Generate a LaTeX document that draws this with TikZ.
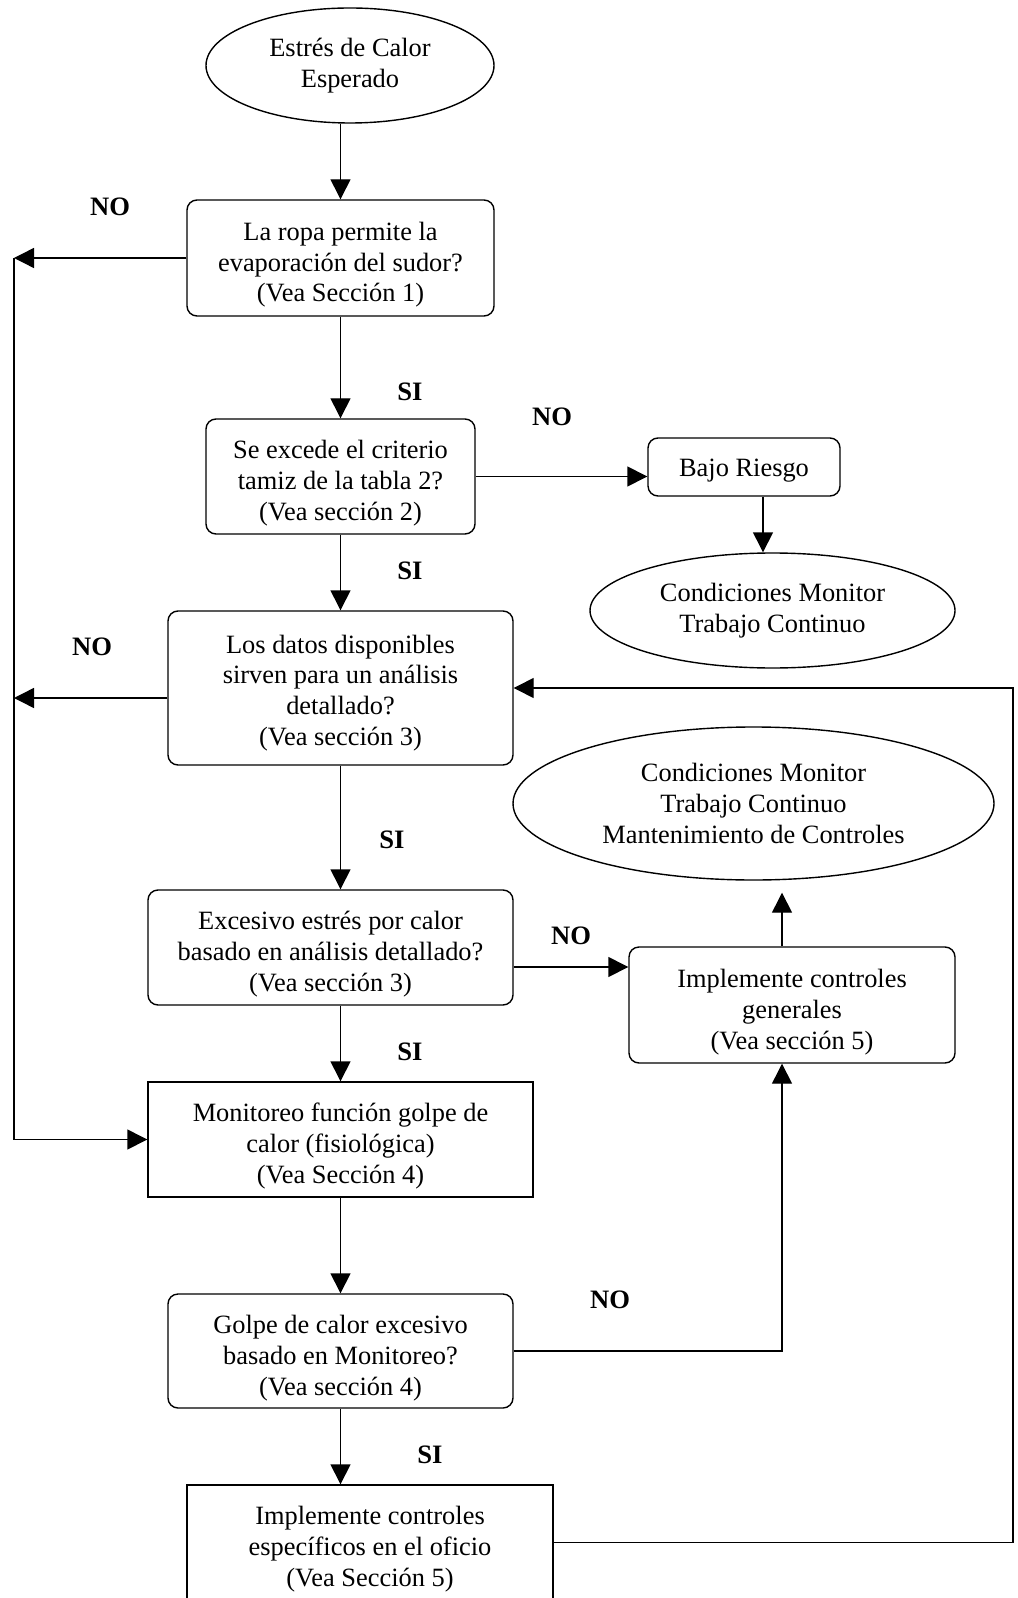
\documentclass[tikz,border=0pt]{standalone}
\usepackage{fontspec}
\setmainfont{Liberation Serif}
\usetikzlibrary{arrows.meta,shapes.geometric}

\begin{document}
\begin{tikzpicture}[x=0.5pt,y=-0.5pt,line width=0.7pt,
  >={Triangle[length=10pt,width=10pt]},
  every node/.style={font=\fontsize{13.2}{15.4}\selectfont,align=center,inner sep=0pt},
  caja/.style={draw,rounded corners=5pt,text height=44pt,text depth=0pt},
  cuadro/.style={draw,text height=44pt,text depth=0pt},
  elipse/.style={draw,ellipse},
  etiqueta/.style={font=\fontsize{13.3}{16}\selectfont\bfseries}]
\useasboundingbox (0,0) rectangle (1017,1598);
\clip (0,0) rectangle (1017,1598);
\node[elipse,minimum width=144pt,minimum height=57.5pt] (inicio) at (350,65.5) {Estrés de Calor\\Esperado};
\node[caja,minimum width=153.5pt,minimum height=58pt] (ropa) at (340.5,258) {La ropa permite la\\evaporación del sudor?\\(Vea Sección 1)};
\node[caja,minimum width=134.5pt,minimum height=57.5pt] (tamiz) at (340.5,476.5) {Se excede el criterio\\tamiz de la tabla 2?\\(Vea sección 2)};
\node[draw,rounded corners=5pt,minimum width=96pt,minimum height=29pt,execute at begin node={\rule{0pt}{12pt}}] (bajo) at (744,467) {Bajo Riesgo};
\node[elipse,minimum width=182.5pt,minimum height=57.5pt] (fin1) at (772.5,610.5) {Condiciones Monitor\\Trabajo Continuo};
\node[caja,text height=57.4pt,minimum width=172.5pt,minimum height=77pt] (datos) at (340.5,688) {Los datos disponibles\\sirven para un análisis\\detallado?\\(Vea sección 3)};
\node[elipse,minimum width=240.5pt,minimum height=76.5pt] (fin2) at (753.5,803.5) {Condiciones Monitor\\Trabajo Continuo\\Mantenimiento de Controles};
\node[caja,minimum width=182.5pt,minimum height=57.5pt] (excesivo) at (330.5,947.5) {Excesivo estrés por calor\\basado en análisis detallado?\\(Vea sección 3)};
\node[caja,minimum width=163pt,minimum height=58pt] (generales) at (792,1005) {Implemente controles\\generales\\(Vea sección 5)};
\node[cuadro,minimum width=192.5pt,minimum height=57.5pt] (monitoreo) at (340.5,1139.5) {Monitoreo función golpe de\\calor (fisiológica)\\(Vea Sección 4)};
\node[caja,minimum width=172.5pt,minimum height=57pt] (golpe) at (340.5,1351) {Golpe de calor excesivo\\basado en Monitoreo?\\(Vea sección 4)};
\node[cuadro,minimum width=183pt,minimum height=57.5pt] (especificos) at (370,1542.5) {Implemente controles\\específicos en el oficio\\(Vea Sección 5)};
\node[etiqueta] (no1) at (110,207) {NO};
\node[etiqueta] (si1) at (410,392) {SI};
\node[etiqueta] (no2) at (552,417) {NO};
\node[etiqueta] (si2) at (410,571) {SI};
\node[etiqueta] (no3) at (92,647) {NO};
\node[etiqueta] (si3) at (392,840) {SI};
\node[etiqueta] (no4) at (571,936) {NO};
\node[etiqueta] (si4) at (410,1052) {SI};
\node[etiqueta] (no5) at (610,1300) {NO};
\node[etiqueta] (si5) at (430,1455) {SI};
\coordinate (izq) at (14,0);
\coordinate (der) at (1013,0);
\draw[->] (inicio.south -| ropa) -- (ropa);
\draw[->] (ropa.west) -- (ropa.west -| izq);
\draw[->] (ropa.west -| izq) -- (izq |- monitoreo.west) -- (monitoreo.west);
\draw[->] (ropa) -- (tamiz);
\draw[->] (tamiz) -- (tamiz -| bajo.west);
\draw[->] ([xshift=9.5pt]bajo.south) -- ([xshift=9.5pt]bajo.south |- fin1.north);
\draw[->] (tamiz) -- (datos);
\draw[->] ([yshift=-5pt]datos.west) -- ([yshift=-5pt]datos.west -| izq);
\draw[->] (datos) -- (datos |- excesivo.north);
\draw[->] ([yshift=-9.75pt]excesivo.east) -- ([yshift=-9.75pt]excesivo.east -| generales.west);
\draw[->,shorten >=6pt] ([xshift=-5pt]generales.north) -- ([xshift=-5pt]generales.north |- fin2.south);
\draw[->] (excesivo.south -| datos) -- (monitoreo);
\draw[->] (monitoreo) -- (golpe);
\draw[->] (golpe.east) -| ([xshift=-5pt]generales.south);
\draw[->] (golpe) -- (golpe |- especificos.north);
\draw[->] (especificos.east) -- (especificos.east -| der) |- (datos.east);
\end{tikzpicture}
\end{document}
